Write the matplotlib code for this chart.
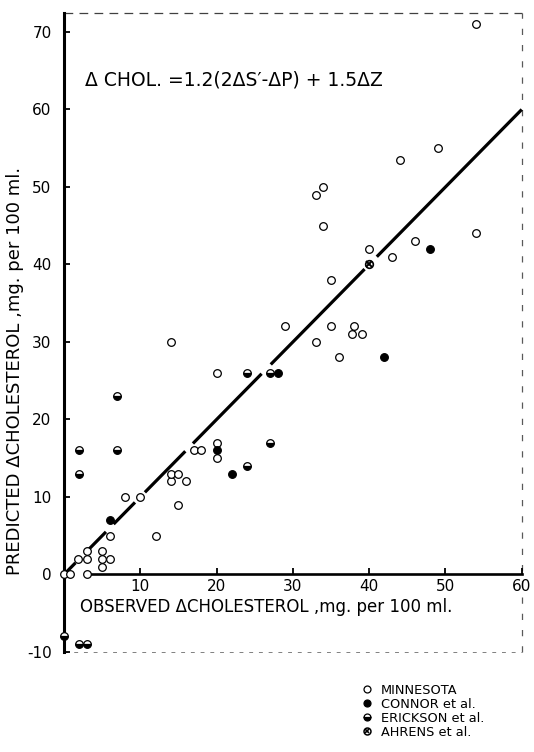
import matplotlib.pyplot as plt
from matplotlib.lines import Line2D

plt.rcParams['font.family'] = ['DejaVu Sans']
plt.rcParams['axes.unicode_minus'] = False

# Observed vs predicted change in cholesterol (mg per 100 ml)
# MINNESOTA - open circles
minn_x = [0, 0.8, 3, 1.8, 3, 3, 5, 5, 5, 6, 6, 8, 10, 12, 14, 14, 15, 16, 15, 17, 18,
          20, 20, 14, 20, 29, 33, 35, 38, 37.7, 39, 36, 35, 40, 43, 46, 54, 33, 34, 34,
          44, 49, 54]
minn_y = [0, 0, 0, 2, 2, 3, 1, 2, 3, 2, 5, 10, 10, 5, 12, 13, 13, 12, 9, 16, 16,
          15, 17, 30, 26, 32, 30, 32, 32, 31, 31, 28, 38, 42, 41, 43, 44, 49, 50, 45,
          53.5, 55, 71]
# CONNOR et al. - filled circles
connor_x = [6, 20, 22, 28, 42, 48]
connor_y = [7, 16, 13, 26, 28, 42]
# ERICKSON et al. - half filled circles
erick_x = [0, 2, 3, 2, 2, 7, 7, 24, 27, 24, 27]
erick_y = [-8, -9, -9, 13, 16, 16, 23, 26, 26, 14, 17]
# AHRENS et al.
ahrens_x = [40]
ahrens_y = [40]

# line of identity, broken where it runs into the points
fit_range = [0, 60]
fit_gaps = [(1.5, 3.0), (5.5, 6.5), (9.3, 10.6), (15.9, 16.9), (25.9, 27.1), (39.4, 41.0)]

x_ticks = [10, 20, 30, 40, 50, 60]
y_ticks = [-10, 0, 10, 20, 30, 40, 50, 60, 70]

legend_labels = ['MINNESOTA', 'CONNOR et al.', 'ERICKSON et al.', 'AHRENS et al.']

fig = plt.figure(figsize=(5.34, 7.52), dpi=100)
ax = fig.add_axes([0.0913, 0.1124, 0.9072, 0.8863])
ax.set_xlim(-2, 61.5)
ax.set_ylim(-12, 74)

# identity line pieces
start = fit_range[0]
for g0, g1 in fit_gaps:
    ax.plot([start, g0], [start, g0], color='black', lw=2.3, solid_capstyle='butt', zorder=2)
    start = g1
ax.plot([start, fit_range[1]], [start, fit_range[1]], color='black', lw=2.3,
        solid_capstyle='butt', zorder=2)

# frame: heavy axes through the origin, faint dashed box around
ax.spines['top'].set_visible(False)
ax.spines['right'].set_visible(False)
ax.spines['left'].set_position(('data', 0))
ax.spines['bottom'].set_position(('data', 0))
ax.spines['left'].set_bounds(-10, 72.5)
ax.spines['bottom'].set_bounds(3.4, 60)
ax.spines['left'].set_linewidth(2.2)
ax.spines['bottom'].set_linewidth(1.9)
ax.plot([0, 60], [72.5, 72.5], color='0.25', lw=0.9, ls=(0, (7, 5)), zorder=1, clip_on=False)
ax.plot([60, 60], [-10, 72.5], color='0.35', lw=0.9, ls=(0, (5, 8)), zorder=1, clip_on=False)
ax.plot([0, 60], [-10, -10], color='0.5', lw=0.7, ls=(0, (4, 6)), zorder=1, clip_on=False)

ax.set_xticks(x_ticks)
ax.set_xticklabels([str(t) for t in x_ticks])
ax.set_yticks(y_ticks)
ax.set_yticklabels([str(t) for t in y_ticks])
ax.tick_params(axis='both', direction='in', length=4, width=1.3, labelsize=11, color='black')
ax.tick_params(axis='x', pad=3)
ax.tick_params(axis='y', pad=9)

ms = 5.5
ax.plot(minn_x, minn_y, 'o', ms=ms, mfc='white', mec='black', mew=0.9, ls='none',
        zorder=4, clip_on=False)
ax.plot(connor_x, connor_y, 'o', ms=ms, mfc='black', mec='black', mew=0.9, ls='none',
        zorder=4, clip_on=False)
ax.plot(erick_x, erick_y, 'o', ms=ms, fillstyle='bottom', mfc='black', mfcalt='white',
        mec='black', mew=0.9, ls='none', zorder=4, clip_on=False)
ax.plot(ahrens_x, ahrens_y, 'o', ms=ms, mfc='white', mec='black', mew=1.2, ls='none', zorder=4)
ax.plot(ahrens_x, ahrens_y, 'x', ms=ms * 0.7, mec='black', mew=1.4, ls='none', zorder=5)

ax.text(2.75, 63.8, 'Δ CHOL. =1.2(2ΔS′-ΔP) + 1.5ΔZ', fontsize=13.5, va='center', ha='left')

fig.text(80 / 534, 1 - 607 / 752, 'OBSERVED ΔCHOLESTEROL ,mg. per 100 ml.',
         fontsize=12, va='center', ha='left')
fig.text(15 / 534, 1 - 371 / 752, 'PREDICTED ΔCHOLESTEROL ,mg. per 100 ml.',
         fontsize=13, rotation=90, va='center', ha='center')

# legend drawn by hand so the rows sit as tight as in the original
handles = [
    [dict(marker='o', ms=5, mfc='white', mec='black', mew=0.9)],
    [dict(marker='o', ms=5, mfc='black', mec='black', mew=0.9)],
    [dict(marker='o', ms=5, fillstyle='bottom', mfc='black', mfcalt='white', mec='black', mew=0.9)],
    [dict(marker='o', ms=5, mfc='white', mec='black', mew=1.1),
     dict(marker='x', ms=3.5, mec='black', mew=1.2)],
]
row_y = [689, 703, 717, 730.5]
for label, hs, ry in zip(legend_labels, handles, row_y):
    fy = 1 - ry / 752
    for h in hs:
        fig.add_artist(Line2D([367 / 534], [fy], ls='none', transform=fig.transFigure, **h))
    fig.text(381 / 534, fy, label, fontsize=9.3, va='center_baseline', ha='left')

fig.savefig('out.png', dpi=100)
